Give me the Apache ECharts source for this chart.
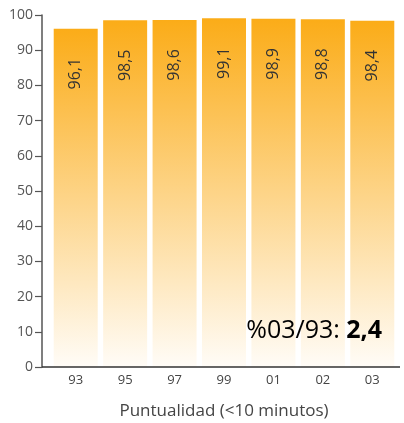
<!DOCTYPE html>
<html><head><meta charset="utf-8">
<script src="https://cdn.jsdelivr.net/npm/echarts@6/dist/echarts.min.js"></script>
<style>html,body{margin:0;padding:0;background:#fff}#c{width:404px;height:423px}</style>
</head><body><div id="c"></div>
<script>
const categories = ['93','95','97','99','01','02','03'];
const values = [96.1, 98.5, 98.6, 99.1, 98.9, 98.8, 98.4];
const yTicks = [0,10,20,30,40,50,60,70,80,90,100];
const xTitle = 'Puntualidad (<10 minutos)';
const noteLabel = '%03/93: ';
const noteValue = '2,4';

const FONT = '"Open Sans", "Noto Sans", sans-serif';
const chart = echarts.init(document.getElementById('c'));
chart.setOption({
  animation: false,
  textStyle: { fontFamily: FONT },
  grid: { left: 51, right: 7, top: 15, bottom: 56, containLabel: false, outerBoundsMode: 'none' },
  xAxis: {
    type: 'category',
    data: categories,
    axisLine: { show: false },
    axisTick: { show: false },
    axisLabel: { color: '#444', fontSize: 13, margin: 7, fontFamily: FONT },
    name: xTitle,
    nameLocation: 'middle',
    nameGap: 36,
    nameTextStyle: { color: '#444', fontSize: 17, fontFamily: FONT }
  },
  yAxis: {
    type: 'value',
    min: yTicks[0],
    max: yTicks[yTicks.length - 1],
    interval: yTicks[1] - yTicks[0],
    offset: 9,
    splitLine: { show: false },
    axisLine: { show: true, lineStyle: { color: '#555', width: 1.5 } },
    axisTick: { show: true, length: 7, lineStyle: { color: '#555', width: 1.2 } },
    axisLabel: { color: '#555', fontSize: 14, margin: 9, fontFamily: FONT }
  },
  series: [{
    type: 'bar',
    data: values,
    barWidth: 44,
    itemStyle: {
      color: new echarts.graphic.LinearGradient(0, 0, 0, 1, [
        { offset: 0, color: '#FBAC18' },
        { offset: 1, color: '#FFFCF7' }
      ])
    },
    label: {
      show: true,
      position: 'insideTop',
      distance: 45,
      rotate: 90,
      align: 'center',
      verticalAlign: 'middle',
      color: '#333',
      fontSize: 16,
      fontFamily: FONT,
      formatter: p => String(p.value).replace('.', ',')
    }
  }],
  graphic: [
    { type: 'line', shape: { x1: 42, y1: 367, x2: 400, y2: 367 }, style: { stroke: '#333', lineWidth: 1.5 }, z: 10 },
    {
      type: 'text', right: 22, top: 318, z: 10,
      style: {
        text: '{a|' + noteLabel + '}{b|' + noteValue + '}',
        rich: {
          a: { fontSize: 25, color: '#333', fontFamily: FONT },
          b: { fontSize: 25, color: '#222', fontWeight: 'bold', fontFamily: FONT }
        }
      }
    }
  ]
});
</script></body></html>
